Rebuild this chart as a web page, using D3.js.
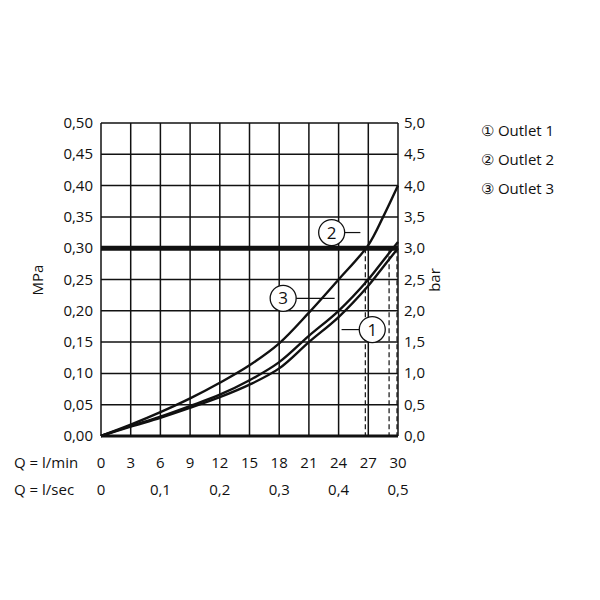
<!DOCTYPE html><html><head><meta charset="utf-8"><script src="https://cdn.jsdelivr.net/npm/d3@7"></script>
<style>body{margin:0;background:#fff}text{font-family:"Open Sans",sans-serif;fill:#111}</style></head><body><svg width="600" height="600"></svg>
<script>
const qx=[0,3,6,9,12,15,18,21,24,27,28.5,30];
const outlet2=[0,0.018,0.038,0.06,0.085,0.113,0.148,0.197,0.25,0.305,0.35,0.40];
const outlet3=[0,0.016,0.031,0.048,0.066,0.089,0.118,0.16,0.20,0.25,0.28,0.31];
const outlet1=[0,0.015,0.029,0.045,0.062,0.082,0.108,0.15,0.19,0.24,0.27,0.30];
const dashX=[26.7,29.1,29.9];
const lminTicks=[0,3,6,9,12,15,18,21,24,27,30];
const lsecTicks=["0","0,1","0,2","0,3","0,4","0,5"];
const mpaTicks=[0,0.05,0.1,0.15,0.2,0.25,0.3,0.35,0.4,0.45,0.5];
const legend=["① Outlet 1","② Outlet 2","③ Outlet 3"];
const svg=d3.select("svg");
const x=d3.scaleLinear().domain([0,30]).range([101,398]);
const y=d3.scaleLinear().domain([0,0.5]).range([436,123]);
const fmt=v=>v.toFixed(2).replace(".",",");
const g=svg.append("g");
g.selectAll(".v").data(lminTicks).join("line").attr("x1",d=>x(d)).attr("x2",d=>x(d)).attr("y1",y(0)).attr("y2",y(0.5)).attr("stroke","#111").attr("stroke-width",1.5);
g.selectAll(".h").data(mpaTicks).join("line").attr("x1",x(0)).attr("x2",x(30)).attr("y1",d=>y(d)).attr("y2",d=>y(d)).attr("stroke","#111").attr("stroke-width",1.5);
g.append("line").attr("x1",x(0)).attr("x2",x(30)).attr("y1",y(0.3)).attr("y2",y(0.3)).attr("stroke","#111").attr("stroke-width",5);
g.append("line").attr("x1",x(0)).attr("x2",x(30)).attr("y1",y(0)).attr("y2",y(0)).attr("stroke","#111").attr("stroke-width",3);
g.selectAll(".d").data(dashX).join("line").attr("x1",d=>x(d)).attr("x2",d=>x(d)).attr("y1",y(0.3)).attr("y2",y(0)).attr("stroke","#111").attr("stroke-width",1.2).attr("stroke-dasharray","5,3");
const line=d3.line().x((d,i)=>x(qx[i])).y(d=>y(d)).curve(d3.curveCatmullRom);
[outlet1,outlet2,outlet3].forEach(s=>g.append("path").attr("d",line(s)).attr("fill","none").attr("stroke","#111").attr("stroke-width",2.4));
const labs=[{n:"1",cx:x(27.4),cy:y(0.17),lx:x(24.3),ly:y(0.17)},{n:"2",cx:x(23.3),cy:y(0.325),lx:x(26.2),ly:y(0.325)},{n:"3",cx:x(18.4),cy:y(0.22),lx:x(23.6),ly:y(0.22)}];
labs.forEach(l=>{g.append("line").attr("x1",l.cx).attr("x2",l.lx).attr("y1",l.cy).attr("y2",l.ly).attr("stroke","#111").attr("stroke-width",1.2);
g.append("circle").attr("cx",l.cx).attr("cy",l.cy).attr("r",13).attr("fill","#fff").attr("stroke","#111").attr("stroke-width",1.3);
g.append("text").attr("x",l.cx).attr("y",l.cy+6).attr("text-anchor","middle").attr("font-size",17).text(l.n);});
svg.selectAll(".ly").data(mpaTicks).join("text").attr("x",93).attr("y",d=>y(d)+5).attr("text-anchor","end").attr("font-size",15).text(fmt);
svg.selectAll(".ry").data(mpaTicks).join("text").attr("x",404).attr("y",d=>y(d)+5).attr("font-size",15).text(d=>(d*10).toFixed(1).replace(".",","));
svg.append("text").attr("transform","translate(43,280) rotate(-90)").attr("text-anchor","middle").attr("font-size",15).text("MPa");
svg.append("text").attr("transform","translate(440,280) rotate(-90)").attr("text-anchor","middle").attr("font-size",15).text("bar");
svg.selectAll(".bx").data(lminTicks).join("text").attr("x",d=>x(d)).attr("y",468).attr("text-anchor","middle").attr("font-size",15).text(d=>d);
svg.append("text").attr("x",14).attr("y",468).attr("font-size",15).text("Q = l/min");
svg.append("text").attr("x",14).attr("y",495).attr("font-size",15).text("Q = l/sec");
svg.selectAll(".sx").data(lsecTicks).join("text").attr("x",(d,i)=>x(i*6)).attr("y",495).attr("text-anchor","middle").attr("font-size",15).text(d=>d);
svg.selectAll(".lg").data(legend).join("text").attr("x",481).attr("y",(d,i)=>136+i*29).attr("font-size",15).text(d=>d);
</script></body></html>
